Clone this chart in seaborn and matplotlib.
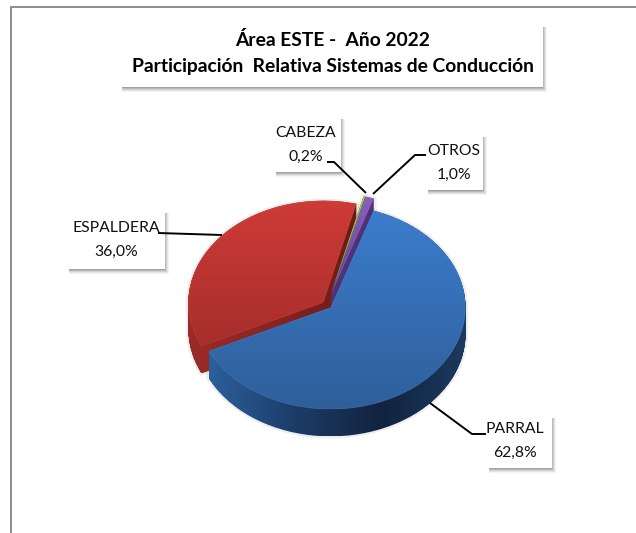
import numpy as np
import matplotlib
matplotlib.use("Agg")
import matplotlib.pyplot as plt
import seaborn as sns
from matplotlib.colors import LinearSegmentedColormap
from matplotlib.patches import PathPatch, Rectangle
from matplotlib.path import Path

# Data
sistemas = ["PARRAL", "OTROS", "CABEZA", "ESPALDERA"]
participacion = [62.8, 1.0, 0.2, 36.0]
separacion = [0.035, 0.10, 0.10, 0.035]
titulo = "Área ESTE -  Año 2022\nParticipación  Relativa Sistemas de Conducción"

# top colours and wall colours, left to right
cara = {
    "PARRAL": ["#3b7dcd", "#2f5f9a"],
    "OTROS": ["#8a5fc0", "#5f3f8c"],
    "CABEZA": ["#a4c840", "#76923a"],
    "ESPALDERA": ["#cf3b37", "#a62e2b"],
}
brillo = {"PARRAL": "#5f97da", "OTROS": "#a584d0", "CABEZA": "#c0dc70", "ESPALDERA": "#d9605c"}
pared = {
    "PARRAL": ["#2c5f9c", "#1c3d68", "#12233f", "#1b3a5e"],
    "OTROS": ["#4f3277", "#4f3277"],
    "CABEZA": ["#5f7a2a", "#5f7a2a"],
    "ESPALDERA": ["#9c2b28", "#8a2421", "#6b1a17"],
}
orden_z = {"ESPALDERA": 1, "CABEZA": 4, "OTROS": 7, "PARRAL": 10}

sns.set_theme(style="white")
plt.rcParams["font.family"] = ["Lato", "DejaVu Sans"]

W, H = 636, 533
CX, CY, RX, RY = 327, 305, 135, 102
fig = plt.figure(figsize=(W / 100, H / 100), dpi=100, facecolor="white")

# pie axes: unit circle squashed to an ellipse
ax = fig.add_axes([0, 0, 1, 1], zorder=2)
xlim = ((0 - CX) / RX, (W - CX) / RX)
ylim = ((CY - H) / RY, CY / RY)
ax.patch.set_alpha(0)


def sombreado(path, colores, z, vertical=True):
    n = 256
    g = np.linspace(0, 1, n).reshape(-1, 1) if vertical else np.linspace(0, 1, n).reshape(1, -1)
    cmap = LinearSegmentedColormap.from_list("c", colores)
    bb = path.get_extents()
    im = ax.imshow(g, cmap=cmap, aspect="auto", origin="upper", zorder=z,
                   extent=[bb.x0, bb.x1, bb.y0, bb.y1], interpolation="bilinear")
    im.set_clip_path(path, ax.transData)


profundidad = np.arange(27, -1, -1) / RY
capas = {s: [] for s in sistemas}
for d in profundidad:
    wedges, _ = ax.pie(participacion, explode=separacion, startangle=205.4,
                       center=(0, -d), radius=1, frame=True, colors=["none"] * 4)
    for s, w in zip(sistemas, wedges):
        capas[s].append(w.get_patch_transform().transform_path(w.get_path()))
        w.set_visible(False)

for s in sistemas:
    z = orden_z[s]
    lado = Path.make_compound_path(*capas[s])
    ax.add_patch(PathPatch(lado, fc="none", ec="#777777", lw=3, alpha=0.12, zorder=0.5))
    sombreado(lado, pared[s], z, vertical=False)
    sombreado(capas[s][-1], cara[s], z + 1)
    # soft light rim on the top face
    rim = PathPatch(capas[s][-1], fc="none", ec=brillo[s], lw=1.2, alpha=0.22, zorder=z + 2)
    ax.add_patch(rim)
    rim.set_clip_path(capas[s][-1], ax.transData)

ax.set_xlim(xlim)
ax.set_ylim(ylim)
ax.set_aspect("auto")
ax.set_axis_off()

# overlay in picture pixels for frame, boxes and labels
ov = fig.add_axes([0, 0, 1, 1], zorder=3)
ov.set_xlim(0, W)
ov.set_ylim(H, 0)
ov.set_axis_off()
ov.patch.set_alpha(0)

ov.plot([11, 11, W], [H, 7, 7], color="#8c8c8c", lw=1.4, solid_joinstyle="miter")


def caja(x0, y0, x1, y1):
    # blurred drop shadow, only to the right and below
    for i, a in zip([4, 3, 2, 1, 0], [0.05, 0.08, 0.11, 0.14, 0.18]):
        ov.add_patch(Rectangle((x0 + 3, y0 + 4), x1 - x0 - 3 + i, y1 - y0 - 3 + i,
                               fc="#333333", ec="none", alpha=a))
    ov.add_patch(Rectangle((x0, y0), x1 - x0, y1 - y0, fc="white", ec="none"))


caja(119, 23, 543, 87)
ov.text(333, 53, titulo, ha="center", va="center", fontsize=13.9, fontweight="bold",
        color="black", linespacing=1.7)

etiquetas = {
    "PARRAL": ((486, 414, 552, 468), (515, 441), [(486, 434), (472, 434), (430, 403)]),
    "OTROS": ((425, 133, 483, 190), (454, 163), [(426, 155), (415, 155), (373, 194)]),
    "CABEZA": ((273, 115, 341, 172), (306, 145), [(327, 162), (334, 162), (366, 193)]),
    "ESPALDERA": ((66, 209, 165, 269), (116, 240), [(158, 233), (222, 235)]),
}
for s, v in zip(sistemas, participacion):
    (x0, y0, x1, y1), (tx, ty), linea = etiquetas[s]
    caja(x0, y0, x1, y1)
    texto = f"{s}\n{v:.1f}%".replace(".", ",")
    ov.text(tx, ty, texto, ha="center", va="center", fontsize=11.3, color="#111111", linespacing=1.85)
    xs, ys = zip(*linea)
    ov.plot(xs, ys, color="black", lw=1.4, solid_capstyle="butt")

fig.savefig("out.png", dpi=100, facecolor="white")
